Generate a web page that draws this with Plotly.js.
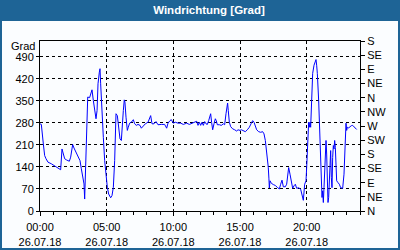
<!DOCTYPE html>
<html><head><meta charset="utf-8">
<script src="https://cdn.plot.ly/plotly-3.0.1.min.js"></script>
<style>html,body{margin:0;padding:0;background:#fbfdff;overflow:hidden}#chart{width:400px;height:250px}</style>
</head><body><div id="chart"></div>
<script>
const chartTitle = 'Windrichtung [Grad]';
const unitLabel = 'Grad';
const hours = [0.0,0.1,0.25,0.35,0.45,0.6,0.85,1.1,1.25,1.45,1.55,1.65,1.75,1.85,2.0,2.2,2.3,2.45,2.55,2.7,2.85,3.0,3.1,3.2,3.3,3.35,3.5,3.58,3.72,3.8,3.9,4.0,4.1,4.2,4.28,4.35,4.45,4.5,4.55,4.65,4.75,4.85,4.95,5.05,5.15,5.3,5.4,5.5,5.6,5.7,5.8,5.9,
  6.0,6.1,6.15,6.25,6.32,6.37,6.45,6.55,6.62,6.72,6.85,7.0,7.1,7.22,7.35,7.5,7.6,7.75,7.9,8.1,8.25,8.3,8.4,8.55,8.7,8.85,9.1,9.35,9.5,9.6,9.75,9.85,10.0,10.15,10.35,10.55,10.75,11.0,11.2,11.4,11.6,11.75,11.85,11.95,
  12.05,12.15,12.25,12.35,12.45,12.55,12.65,12.75,12.8,12.87,12.95,13.05,13.15,13.22,13.3,13.45,13.6,13.75,13.85,13.95,14.02,14.07,14.12,14.2,14.3,14.45,14.6,14.75,14.85,15.0,15.1,15.25,15.4,15.55,15.7,15.85,15.95,16.05,16.15,16.25,16.4,16.55,16.7,16.8,16.9,17.0,17.05,17.12,17.17,17.2,17.25,17.35,17.5,17.65,17.8,17.95,
  18.05,18.15,18.25,18.4,18.5,18.6,18.65,18.75,18.85,18.95,19.05,19.15,19.25,19.4,19.55,19.65,19.75,19.85,19.95,20.0,20.05,20.1,20.15,20.2,20.25,20.3,20.35,20.4,20.45,20.55,20.65,20.7,20.75,20.8,20.9,21.0,21.05,21.1,21.15,21.2,21.25,21.3,21.35,21.4,21.45,21.5,21.55,21.6,21.65,21.7,21.75,21.8,21.85,21.9,21.95,
  22.0,22.05,22.1,22.15,22.2,22.25,22.35,22.45,22.55,22.7,22.8,22.85,22.9,22.95,23.0,23.05,23.15,23.25,23.35,23.45,23.55,23.7,23.75];
const windDirDeg = [277,275,213,176,166,155,150,144,139,134,131,197,176,166,162,158,171,211,200,187,176,160,134,102,86,38,300,362,360,372,385,351,325,293,319,404,441,452,404,298,234,160,113,75,54,42,49,75,160,309,303,256,
  229,224,266,319,353,346,298,256,266,279,282,290,277,272,275,272,263,272,277,282,298,303,277,277,284,274,275,275,263,279,287,290,279,282,279,279,275,279,275,279,282,285,272,282,
  272,282,272,284,277,275,287,300,309,282,258,277,293,287,274,274,272,277,274,309,330,343,319,282,268,261,258,254,258,256,258,256,252,258,266,279,287,282,266,258,252,250,252,245,224,192,160,139,102,73,96,88,84,81,75,70,
  85,98,77,77,85,117,138,117,90,72,80,85,72,74,69,53,34,85,96,138,202,245,282,266,282,266,330,394,437,463,479,481,463,437,351,213,106,64,43,64,27,74,149,192,224,181,64,27,43,106,160,192,106,74,170,
  208,197,224,202,138,96,90,85,74,72,117,192,240,279,256,266,264,268,271,272,268,261,259];
const xTickVals = [0,5,10,15,20];
const xTickText = ['00:00<br>26.07.18','05:00<br>26.07.18','10:00<br>26.07.18','15:00<br>26.07.18','20:00<br>26.07.18'];
const leftTickVals = [0,70,140,210,280,350,420,490];
const compassVals = [0,45,90,135,180,225,270,315,360,405,450,495,540];
const compassLabels = ['N','NE','E','SE','S','SW','W','NW','N','NE','E','SE','S'];

const FAM = '"Liberation Sans", Arial, sans-serif';
const W = 400, H = 250, L = 40, R = 40, T = 41, B = 39;
const PW = W - L - R, PH = H - T - B;
const barColor = '#1e6496';

const trace = {x: hours, y: windDirDeg, type: 'scatter', mode: 'lines',
  line: {color: '#0000ff', width: 1}, hoverinfo: 'skip', cliponaxis: true};

const layout = {
  width: W, height: H,
  margin: {l: L, r: R, t: T, b: B, pad: 0},
  paper_bgcolor: '#fbfdff', plot_bgcolor: '#fbfdff',
  showlegend: false,
  font: {family: FAM, size: 11, color: '#000'},
  title: {text: chartTitle, font: {family: FAM, size: 11.5, color: '#ffffff', weight: 'bold'},
    xref: 'container', yref: 'container', x: 209 / W, xanchor: 'center', y: 1 - 10 / H, yanchor: 'middle'},
  xaxis: {range: [0, 24], tickmode: 'array', tickvals: xTickVals, ticktext: xTickText,
    ticks: 'outside', ticklen: 4, tickcolor: '#000', tickwidth: 1, ticklabelstandoff: 2,
    showline: true, linecolor: '#000', linewidth: 1, mirror: true,
    showgrid: true, gridcolor: '#000', gridwidth: 1, griddash: '3px,3px', zeroline: false,
    minor: {tickmode: 'linear', tick0: 0, dtick: 1, ticks: 'outside', ticklen: 3, tickcolor: '#000', showgrid: false},
    tickfont: {family: FAM, size: 11, color: '#000'}, fixedrange: true},
  yaxis: {range: [0, 540], tickmode: 'array', tickvals: leftTickVals,
    ticks: 'outside', ticklen: 3, tickcolor: '#000',
    showline: true, linecolor: '#000', linewidth: 1, mirror: true,
    showgrid: true, gridcolor: '#000', gridwidth: 1, griddash: '3px,3px', zeroline: false,
    tickfont: {family: FAM, size: 11, color: '#000'}, fixedrange: true},
  yaxis2: {overlaying: 'y', side: 'right', range: [0, 540], tickmode: 'array',
    tickvals: compassVals, ticktext: compassLabels,
    ticks: 'outside', ticklen: 4, tickcolor: '#000',
    showline: true, linecolor: '#000', linewidth: 1, showgrid: false, zeroline: false,
    tickfont: {family: FAM, size: 11, color: '#000'}, fixedrange: true},
  shapes: [
    {type: 'rect', xref: 'paper', yref: 'paper', x0: -L / PW, x1: 1 + R / PW,
      y0: 1 + (T - 21) / PH, y1: 1 + T / PH, fillcolor: barColor, line: {width: 0}},
    {type: 'rect', xref: 'paper', yref: 'paper', x0: (-L + 1) / PW, x1: 1 + (R - 1) / PW,
      y0: (-B + 1) / PH, y1: 1 + (T - 1) / PH, fillcolor: 'rgba(0,0,0,0)', line: {color: barColor, width: 2}}
  ],
  annotations: [
    {text: unitLabel, xref: 'paper', yref: 'paper', x: -3 / PW, y: 1 - 5 / PH,
      xanchor: 'right', yanchor: 'middle', showarrow: false, font: {family: FAM, size: 11, color: '#000'}}
  ]
};
const traces = [trace, {x: hours, y: windDirDeg, yaxis: 'y2', type: 'scatter', mode: 'lines',
  line: {width: 0}, opacity: 0, hoverinfo: 'skip', showlegend: false}];
Plotly.newPlot('chart', traces, layout, {staticPlot: true, displayModeBar: false});
</script>
</body></html>
